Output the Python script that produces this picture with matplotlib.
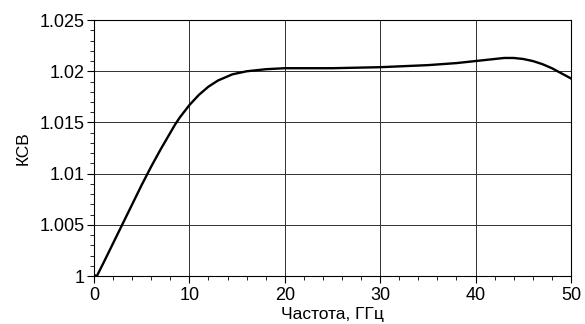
import numpy as np
import matplotlib.pyplot as plt
from matplotlib.ticker import MultipleLocator

# VSWR vs frequency
freq = [0, 0.3, 1, 2, 3, 4, 5, 6, 7, 7.5, 8, 8.5, 9, 9.5, 10, 10.5, 11, 11.5,
        12, 12.5, 13, 13.5, 14, 14.5, 15, 15.5, 16, 17, 18, 20, 22, 25, 30,
        35, 38, 40, 42, 43, 44, 45, 46, 47, 48, 49, 50]
vswr = [1.0001, 1.0000, 1.0013, 1.0032, 1.0051, 1.0070, 1.0089, 1.0107, 1.0124,
        1.0132, 1.0140, 1.0148, 1.0155, 1.0161, 1.0167, 1.0172, 1.0177, 1.0181,
        1.0185, 1.0188, 1.0191, 1.0193, 1.0195, 1.0197, 1.0198, 1.0199, 1.0200,
        1.0201, 1.0202, 1.0203, 1.0203, 1.0203, 1.0204, 1.0206, 1.0208, 1.0210,
        1.0212, 1.0213, 1.0213, 1.0212, 1.0210, 1.0207, 1.0203, 1.0198, 1.0193]

plt.rcParams['font.family'] = ['Liberation Sans', 'DejaVu Sans']

fig = plt.figure(figsize=(5.85, 3.24), dpi=100)
ax = fig.add_axes([0.1607, 0.148, 0.8153, 0.790])

ax.plot(freq, vswr, color='black', linewidth=1.7, solid_joinstyle='round')

ax.set_xlim(0, 50)
ax.set_ylim(1.0, 1.025)
ax.xaxis.set_major_locator(MultipleLocator(10))
ax.xaxis.set_minor_locator(MultipleLocator(2))
ax.yaxis.set_major_locator(MultipleLocator(0.005))
ax.yaxis.set_minor_locator(MultipleLocator(0.001))
ax.set_yticks([1.0, 1.005, 1.01, 1.015, 1.02, 1.025])
ax.set_yticklabels(['1', '1.005', '1.01', '1.015', '1.02', '1.025'])

ax.grid(which='major', color='#303030', linewidth=0.7)
ax.tick_params(which='major', direction='out', length=5, width=0.8, labelsize=13, pad=2)
ax.tick_params(axis='x', which='major', pad=3)
ax.tick_params(which='minor', direction='out', length=3, width=0.6)
for s in ax.spines.values():
    s.set_linewidth(0.8)

ax.set_xlabel('Частота, ГГц', fontsize=12.5, labelpad=2)
ax.set_ylabel('КСВ', fontsize=12.5, labelpad=6)

fig.savefig('out.png', dpi=100)
